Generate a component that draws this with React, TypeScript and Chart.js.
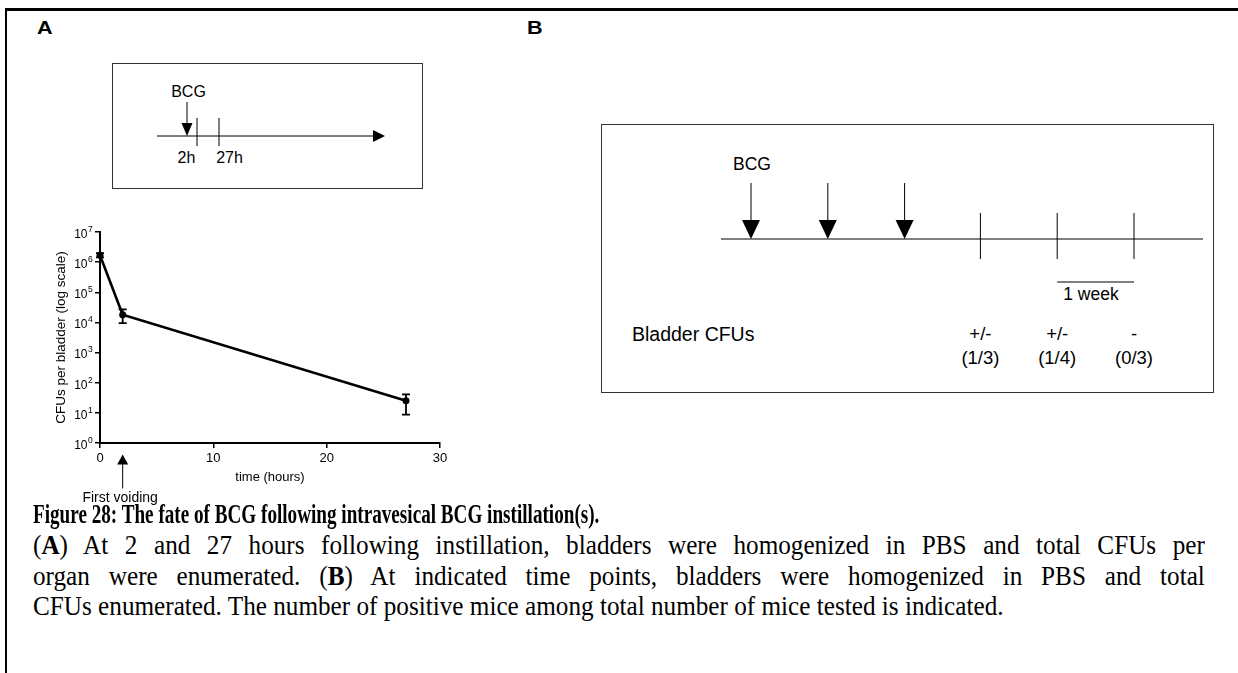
import React, { useEffect, useRef } from "react";
import { Chart, registerables } from "chart.js";

Chart.register(...registerables);

// ---- Panel A chart data ----
const times = [0, 2, 27];
const cfuMean = [1.7e6, 1.8e4, 25];
const cfuLow = [1.45e6, 9.5e3, 8.7];
const cfuHigh = [2.0e6, 2.7e4, 41];
const yTickValues = [1, 10, 100, 1e3, 1e4, 1e5, 1e6, 1e7];
const xTickValues = [0, 10, 20, 30];
const yTitle = "CFUs per bladder (log scale)";
const xTitle = "time (hours)";
const voidingTime = 2;
const voidingLabel = "First voiding";

// ---- Schematic labels ----
const timelineALabels = ["2h", "27h"];
const bcgLabel = "BCG";
const bInstillations = [0, 1, 2];
const bSamplings = [3, 4, 5];
const bSigns = ["+/-", "+/-", "-"];
const bCounts = ["(1/3)", "(1/4)", "(0/3)"];
const bRowLabel = "Bladder CFUs";
const bScaleLabel = "1 week";

// ---- Caption ----
const captionTitle = "Figure 28: The fate of BCG following intravesical BCG instillation(s).";

const SANS = "'Liberation Sans', Arial, Helvetica, sans-serif";
const SERIF = "'Liberation Serif', 'Times New Roman', Times, serif";

function ChartA() {
  const ref = useRef<HTMLCanvasElement | null>(null);
  useEffect(() => {
    if (!ref.current) return;
    const overlay = {
      id: "overlay",
      afterDatasetsDraw(chart: any) {
        const { ctx, scales } = chart;
        const x = scales.x;
        const y = scales.y;
        ctx.save();
        ctx.strokeStyle = "#000";
        ctx.lineWidth = 1.8;
        times.forEach((t, i) => {
          const px = x.getPixelForValue(t);
          const yl = y.getPixelForValue(cfuLow[i]);
          const yh = y.getPixelForValue(cfuHigh[i]);
          ctx.beginPath();
          ctx.moveTo(px, yl);
          ctx.lineTo(px, yh);
          ctx.moveTo(px - 4, yl);
          ctx.lineTo(px + 4, yl);
          ctx.moveTo(px - 4, yh);
          ctx.lineTo(px + 4, yh);
          ctx.stroke();
        });
        ctx.restore();
      },
      afterDraw(chart: any) {
        const { ctx, scales, chartArea } = chart;
        const x = scales.x;
        const y = scales.y;
        ctx.save();
        ctx.fillStyle = "#000";
        const xr = chartArea.left - 12.5;
        yTickValues.forEach((v) => {
          const py = y.getPixelForValue(v);
          const e = Math.round(Math.log10(v));
          ctx.font = `12px ${SANS}`;
          ctx.textAlign = "right";
          ctx.textBaseline = "middle";
          ctx.fillText("10", xr, py + 2.5);
          ctx.font = `8.5px ${SANS}`;
          ctx.textAlign = "left";
          ctx.fillText(String(e), xr + 0.5, py - 2.5);
        });
        // first voiding arrow
        const px = x.getPixelForValue(voidingTime);
        const tip = chartArea.bottom + 11.5;
        ctx.beginPath();
        ctx.moveTo(px, tip);
        ctx.lineTo(px - 5.5, tip + 10);
        ctx.lineTo(px + 5.5, tip + 10);
        ctx.closePath();
        ctx.fill();
        ctx.strokeStyle = "#000";
        ctx.lineWidth = 1;
        ctx.beginPath();
        ctx.moveTo(px, tip + 9);
        ctx.lineTo(px, tip + 34);
        ctx.stroke();
        ctx.font = `14px ${SANS}`;
        ctx.textAlign = "center";
        ctx.textBaseline = "middle";
        ctx.fillText(voidingLabel, px - 2.5, chartArea.bottom + 55.5);
        ctx.restore();
      },
    };
    const chart = new Chart(ref.current, {
      type: "line",
      data: {
        datasets: [
          {
            data: times.map((t, i) => ({ x: t, y: cfuMean[i] })),
            borderColor: "#000",
            backgroundColor: "#000",
            borderWidth: 2.6,
            pointRadius: 3.5,
            pointBackgroundColor: "#000",
            pointBorderWidth: 0,
            tension: 0,
            clip: false as any,
          },
        ],
      },
      options: {
        responsive: false,
        animation: false,
        devicePixelRatio: 1,
        layout: { padding: { left: 23, top: 12, right: 20, bottom: 0 } },
        plugins: { legend: { display: false }, tooltip: { enabled: false } },
        scales: {
          x: {
            type: "linear",
            min: 0,
            max: 30,
            afterBuildTicks: (s: any) => {
              s.ticks = xTickValues.map((v) => ({ value: v }));
            },
            afterFit: (s: any) => {
              s.height = 67;
            },
            ticks: {
              color: "#000",
              font: { family: SANS, size: 13 },
              padding: 3,
              maxRotation: 0,
              autoSkip: false,
            },
            grid: {
              display: true,
              drawOnChartArea: false,
              drawTicks: true,
              tickLength: 5,
              color: "#000",
              lineWidth: 1.5,
            },
            border: { display: true, color: "#000", width: 2 },
            title: {
              display: true,
              text: xTitle,
              color: "#000",
              font: { family: SANS, size: 13 },
              padding: { top: 0, bottom: 25 },
            },
          },
          y: {
            type: "logarithmic",
            min: 1,
            max: 1e7,
            afterBuildTicks: (s: any) => {
              s.ticks = yTickValues.map((v) => ({ value: v }));
            },
            afterFit: (s: any) => {
              s.width = 47;
            },
            ticks: { display: false },
            grid: {
              display: true,
              drawOnChartArea: false,
              drawTicks: true,
              tickLength: 5,
              color: "#000",
              lineWidth: 1.5,
            },
            border: { display: true, color: "#000", width: 2 },
            title: {
              display: true,
              text: yTitle,
              color: "#000",
              font: { family: SANS, size: 13.5 },
              padding: { top: 0, bottom: 0 },
            },
          },
        },
      } as any,
      plugins: [overlay],
    });
    return () => chart.destroy();
  }, []);
  return (
    <canvas
      ref={ref}
      width={430}
      height={290}
      style={{ position: "absolute", left: 30, top: 220, width: 430, height: 290 }}
    />
  );
}

function Schematics() {
  const aTicks = [197, 219];
  const bx = (w: number) => 751 + w * 76.8;
  const txt = { fontFamily: SANS, fill: "#000" } as any;
  return (
    <svg width={1238} height={673} style={{ position: "absolute", left: 0, top: 0 }}>
      {/* Panel A box */}
      <rect x={112.5} y={63.5} width={310} height={125} fill="none" stroke="#333" strokeWidth={1} />
      <line x1={157} y1={136} x2={375} y2={136} stroke="#000" strokeWidth={1} />
      <polygon points="373,130 385,136 373,142" fill="#000" />
      <line x1={187} y1={102} x2={187} y2={125} stroke="#000" strokeWidth={1} />
      <polygon points="181.5,123 192.5,123 187,136" fill="#000" />
      {aTicks.map((x) => (
        <line key={x} x1={x} y1={118} x2={x} y2={146} stroke="#000" strokeWidth={1} />
      ))}
      <text x={188.5} y={97} textAnchor="middle" fontSize={16} {...txt}>{bcgLabel}</text>
      <text x={186.5} y={163} textAnchor="middle" fontSize={16} {...txt}>{timelineALabels[0]}</text>
      <text x={229.5} y={163} textAnchor="middle" fontSize={16} {...txt}>{timelineALabels[1]}</text>

      {/* Panel B box */}
      <rect x={601.5} y={124.5} width={612} height={268} fill="none" stroke="#333" strokeWidth={1} />
      <line x1={721} y1={239} x2={1203} y2={239} stroke="#000" strokeWidth={1} />
      {bInstillations.map((w) => {
        const x = bx(w);
        return (
          <g key={"i" + w}>
            <line x1={x} y1={183} x2={x} y2={221} stroke="#000" strokeWidth={1} />
            <polygon points={`${x - 9},220 ${x + 9},220 ${x},239`} fill="#000" />
          </g>
        );
      })}
      {bSamplings.map((w, i) => {
        const x = bx(w) - 1;
        return (
          <g key={"s" + w}>
            <line x1={x} y1={213} x2={x} y2={259} stroke="#000" strokeWidth={1} />
            <text x={x} y={340} textAnchor="middle" fontSize={18.5} {...txt}>{bSigns[i]}</text>
            <text x={x} y={364} textAnchor="middle" fontSize={18.5} {...txt}>{bCounts[i]}</text>
          </g>
        );
      })}
      <line x1={bx(4) - 1} y1={282} x2={bx(5) - 1} y2={282} stroke="#000" strokeWidth={1} />
      <text x={1091} y={300} textAnchor="middle" fontSize={17.5} {...txt}>{bScaleLabel}</text>
      <text x={752} y={170} textAnchor="middle" fontSize={17.5} {...txt}>{bcgLabel}</text>
      <text x={632} y={341} textAnchor="start" fontSize={19.5} {...txt}>{bRowLabel}</text>
    </svg>
  );
}

export default function App() {
  const bodyScale = 0.933;
  const lineStyle: any = {
    position: "absolute",
    left: 33,
    width: Math.round(1172 / bodyScale),
    fontFamily: SERIF,
    fontSize: 27,
    lineHeight: "31px",
    color: "#000",
    whiteSpace: "nowrap",
    transform: `scaleX(${bodyScale})`,
    transformOrigin: "0 0",
  };
  const panelLabel: any = {
    position: "absolute",
    top: 18,
    fontFamily: SANS,
    fontWeight: 700,
    fontSize: 18,
    lineHeight: "20px",
    transform: "scaleX(1.2)",
    transformOrigin: "0 0",
  };
  return (
    <div
      style={{
        position: "fixed",
        left: 0,
        top: 0,
        width: 1238,
        height: 673,
        background: "#fff",
        overflow: "hidden",
      }}
    >
      <div style={{ position: "absolute", left: 5, top: 8, width: 1233, height: 2.5, background: "#000" }} />
      <div style={{ position: "absolute", left: 5, top: 8, width: 2, height: 665, background: "#000" }} />
      <div style={{ ...panelLabel, left: 37 }}>A</div>
      <div style={{ ...panelLabel, left: 527 }}>B</div>
      <Schematics />
      <ChartA />
      <div
        style={{
          ...lineStyle,
          top: 498,
          width: 900,
          fontSize: 28,
          fontWeight: 700,
          transform: "scaleX(0.684)",
        }}
      >
        {captionTitle}
      </div>
      <div style={{ ...lineStyle, top: 530, textAlign: "justify", textAlignLast: "justify", whiteSpace: "normal" }}>
        (<b>A</b>) At 2 and 27 hours following instillation, bladders were homogenized in PBS and total CFUs per
      </div>
      <div style={{ ...lineStyle, top: 561, textAlign: "justify", textAlignLast: "justify", whiteSpace: "normal" }}>
        organ were enumerated. (<b>B</b>) At indicated time points, bladders were homogenized in PBS and total
      </div>
      <div style={{ ...lineStyle, top: 591 }}>
        CFUs enumerated. The number of positive mice among total number of mice tested is indicated.
      </div>
    </div>
  );
}
